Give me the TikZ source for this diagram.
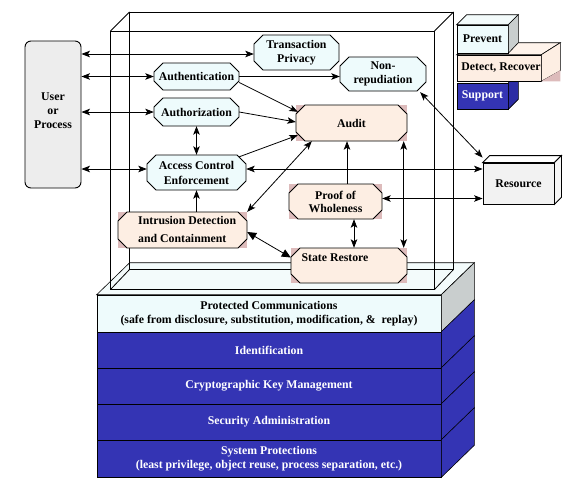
\documentclass[tikz,border=0pt]{standalone}
\usepackage{fontspec}
\setmainfont{Liberation Serif}
\usetikzlibrary{arrows.meta,calc}
\definecolor{cyanf}{HTML}{EEFBFC}
\definecolor{topf}{HTML}{F3FBFB}
\definecolor{peach}{HTML}{FDEEE3}
\definecolor{pinkc}{HTML}{DDBBBB}
\definecolor{bluef}{HTML}{3434B4}
\definecolor{blueside}{HTML}{2C2CA4}
\definecolor{grayside}{HTML}{C9CECE}
\definecolor{userf}{HTML}{EDEDED}
\definecolor{resf}{HTML}{F2F2F2}
\tikzset{
  txt/.style={font=\bfseries\fontsize{11.8}{14}\selectfont, align=center, inner sep=0pt},
  frm/.style={draw=black, line width=0.8pt},
  edgeln/.style={draw=black, line width=0.6pt},
  stacklayer/.style={txt, draw=black, line width=0.6pt, minimum width=344},
  arr/.style={-{Stealth[length=8.5pt,width=6.5pt,inset=2pt]}, line width=0.8pt},
  darr/.style={{Stealth[length=8.5pt,width=6.5pt,inset=2pt]}-{Stealth[length=8.5pt,width=6.5pt,inset=2pt]}, line width=0.8pt},
  bigdarr/.style={{Triangle[length=9pt,width=8pt]}-{Triangle[length=9pt,width=8pt]}, line width=0.8pt},
}
% octagon: name, L, T, R, B, fill, text
\newcommand\octo[7]{%
  \path[draw=black,line width=0.9pt,fill=#6] ({#2+9},#3) -- ({#4-9},#3) -- (#4,{#3+9}) -- (#4,{#5-9}) -- ({#4-9},#5) -- ({#2+9},#5) -- (#2,{#5-9}) -- (#2,{#3+9}) -- cycle;
  \node[txt,minimum width={#4-#2},minimum height={#5-#3}] (#1) at ({(#2+#4)/2},{(#3+#5)/2}) {#7};}
\newcommand\pinkbg[4]{\fill[pinkc] (#1,#2) rectangle (#3,#4);}
\begin{document}
\begin{tikzpicture}[x=1pt,y=-1pt]
\useasboundingbox[fill=white] (0,0) rectangle (570,482);

% ---------- stack ----------
\node[stacklayer, fill=cyanf, minimum height=37] (pc) at (269,313.5) {Protected Communications\\(safe from disclosure, substitution, modification, \&\ \ replay)};
\node[stacklayer, fill=bluef, text=white, minimum height=36] (idn) at (269,350) {Identification};
\node[stacklayer, fill=bluef, text=white, minimum height=36] (ckm) at (269,386) {Cryptographic Key Management};
\node[stacklayer, fill=bluef, text=white, minimum height=36] (sad) at (269,422) {Security Administration};
\node[stacklayer, fill=bluef, text=white, minimum height=37] (spr) at (269,458.5) {System Protections\\(least privilege, object reuse, process separation, etc.)};
\path[edgeln, fill=topf] (pc.north west) -- ++(33,-32) -- ([shift={(33,-32)}]pc.north east) -- (pc.north east) -- cycle;
\path[edgeln, fill=grayside] (pc.north east) -- ++(33,-32) -- ([shift={(33,-32)}]pc.south east) -- (pc.south east) -- cycle;
\foreach \n in {idn,ckm,sad,spr}{
  \path[edgeln, fill=bluef] (\n.north east) -- ++(33,-32) -- ([shift={(33,-32)}]\n.south east) -- (\n.south east) -- cycle;
}

% ---------- frame ----------
\draw[frm] (129.5,12) rectangle (453.5,269.5);
\draw[frm] (110.5,31) rectangle (434.5,289.5);
\draw[frm] (110.5,31) -- (129.5,12) (434.5,31) -- (453.5,12) (110.5,289.5) -- (129.5,269.5) (434.5,289.5) -- (453.5,269.5);

% ---------- legend ----------
\node[txt, draw=black, line width=0.6pt, fill=bluef, text=white, minimum width=51, minimum height=26] (sup) at (482.5,96) {Support};
\path[edgeln, fill=blueside] (sup.north east) -- ++(10,-10) -- ([shift={(10,-10)}]sup.south east) -- (sup.south east) -- cycle;
\node[txt, draw=black, line width=0.6pt, fill=peach, minimum width=84, minimum height=26] (det) at (499,68) {\hspace*{4pt}Detect, Recover};
\path[edgeln, fill=peach!70!white] (det.north west) -- ++(19,-12) -- ([shift={(19,-12)}]det.north east) -- (det.north east) -- cycle;
\path[edgeln, fill=peach] (det.north east) -- ++(19,-12) -- ++(0,28) -- (det.south east) -- cycle;
\fill[pinkc] (det.south east) -- ++(19,-11) -- ++(0,11) -- cycle;
\node[txt, draw=black, line width=0.6pt, fill=cyanf, minimum width=51, minimum height=28] (prev) at (482.5,39) {Prevent};
\path[edgeln, fill=topf] (prev.north west) -- ++(10,-10) -- ([shift={(10,-10)}]prev.north east) -- (prev.north east) -- cycle;
\path[edgeln, fill=grayside] (prev.north east) -- ++(10,-10) -- ++(0,28) -- (prev.south east) -- cycle;

% ---------- resource ----------
\node[txt, draw=black, line width=0.8pt, fill=resf, minimum width=71, minimum height=41] (res) at (518.5,183.5) {Resource};
\path[edgeln, line width=0.8pt, fill=white] (res.north west) -- ++(7,-7) -- ([shift={(7,-7)}]res.north east) -- (res.north east) -- cycle;
\path[edgeln, line width=0.8pt, fill=resf!80!white] (res.north east) -- ++(7,-7) -- ([shift={(7,-7)}]res.south east) -- (res.south east) -- cycle;

% ---------- user ----------
\node[draw=black, line width=0.9pt, rounded corners=6pt, fill=userf, minimum width=56, minimum height=147] (user) at (53,114.5) {};
\node[txt] (usert) at (53,110.5) {User\\or\\Process};

% ---------- octagon nodes ----------
\octo{trans}{254}{35}{339}{70}{cyanf}{Transaction\\Privacy}
\octo{nonrep}{340}{57}{426}{91}{cyanf}{Non-\\repudiation}
\octo{auth}{154}{63}{239}{90}{cyanf}{Authentication}
\octo{authz}{154}{98}{239}{126}{cyanf}{Authorization}
\octo{acc}{147}{155}{246}{190}{cyanf}{Access Control\\[1pt]Enforcement}
\pinkbg{296}{105}{407}{141}
\octo{audit}{296}{105}{407}{141}{peach}{Audit}
\pinkbg{118}{212}{247}{248}
\octo{ids}{118}{212}{247}{248}{peach}{}
\node[txt, align=left, anchor=west] (idst) at (138,229) {Intrusion Detection\\[4pt]and Containment};
\pinkbg{289}{184}{382}{219}
\octo{proof}{289}{184}{382}{219}{peach}{Proof of\\[-1pt]Wholeness}
\pinkbg{291}{248}{407}{283}
\octo{sr}{291}{248}{407}{283}{peach}{}
\node[txt] (srt) at (335,258) {State Restore};

% ---------- connectors ----------
\coordinate (accw) at ($(acc.west)+(0,-3.5)$);
\coordinate (acce) at ($(acc.east)+(0,-3.5)$);
\coordinate (pre) at ($(proof.east)+(0,-3)$);
\coordinate (pn) at ($(proof.north)+(11.5,0)$);
\coordinate (ps) at ($(proof.south)+(18.5,0)$);
\coordinate (as) at ($(audit.south east)+(-3.5,0)$);

\draw[darr] ($(user.east |- trans.west)+(0,1.5)$) -- ($(trans.west)+(0,1.5)$);
\draw[darr] (user.east |- auth.west) -- (auth.west);
\draw[darr] (user.east |- authz.west) -- (authz.west);
\draw[darr] (user.east |- accw) -- (accw);
\draw[darr] (authz.south) -- (acc.north);
\draw[arr] (acc.south |- ids.north) -- (acc.south);
\draw[arr] (auth.east) -- (nonrep.west |- auth.east);
\draw[arr] ($(auth.east)+(0,6)$) -- ($(audit.north west)+(2,7)$);
\draw[arr] (authz.east) -- ($(audit.west)+(0,-1)$);
\draw[arr] ($(acc.north east)+(-7,2)$) -- ($(audit.south west)+(2,-6)$);
\draw[darr] (ids.north east) -- ($(audit.south west)+(16,0)$);
\draw[darr] (acce) -- (res.west |- acce);
\draw[darr] (pre) -- (res.west |- pre);
\draw[arr] (pn) -- (pn |- audit.south);
\draw[darr] (ps) -- (ps |- sr.north);
\draw[darr] (as) -- (as |- sr.north);
\draw[darr] ($(nonrep.south east)+(-6,1)$) -- ($(res.north west)+(0,-5)$);
\draw[bigdarr] ($(ids.east)+(0,2)$) -- ($(sr.west)+(0,-8)$);
\end{tikzpicture}
\end{document}
